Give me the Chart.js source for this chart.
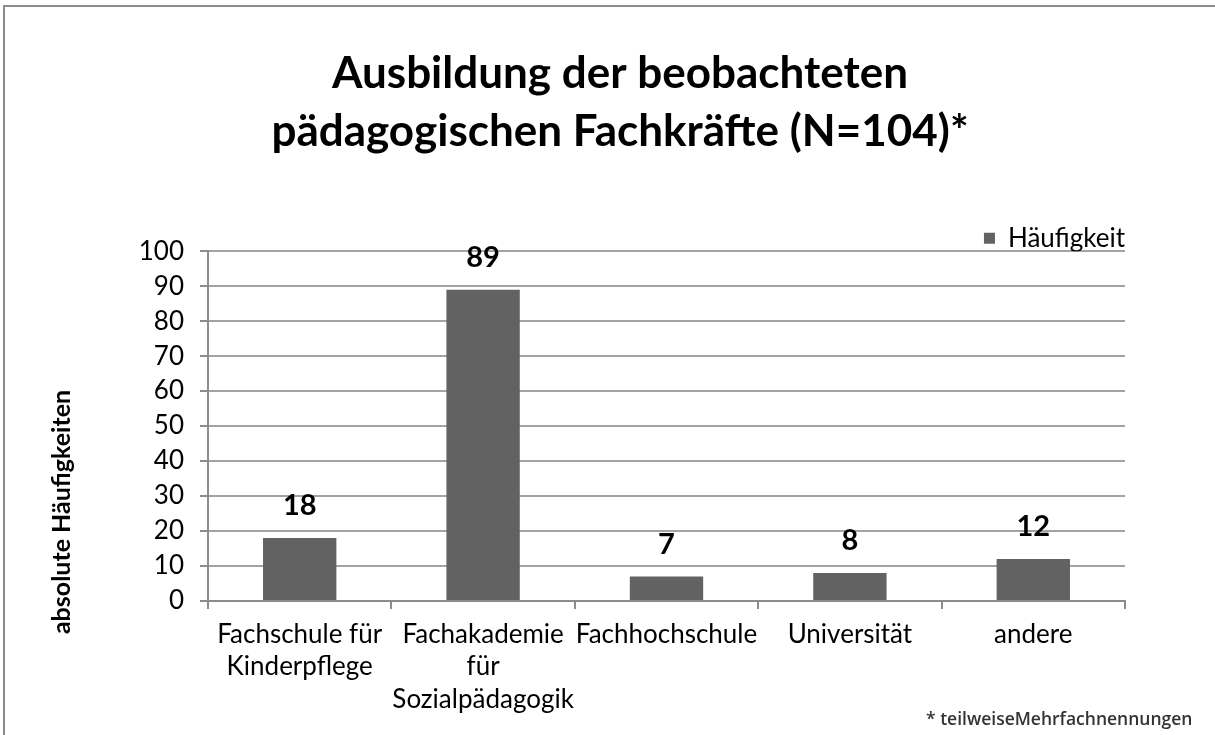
<!DOCTYPE html>
<html>
<head>
<meta charset="utf-8">
<script src="https://cdn.jsdelivr.net/npm/chart.js@4.4.1/dist/chart.umd.min.js"></script>
<style>
    html, body { margin: 0; padding: 0; background: #fff; }
    #wrap { position: relative; width: 1215px; height: 735px; overflow: hidden; }
    #frame {
        position: absolute; left: 3px; top: 5px; width: 1212px; height: 730px;
        border-top: 2px solid #8c8c8c; border-left: 2px solid #8c8c8c; box-sizing: border-box;
    }
    #chart { position: absolute; left: 0; top: 0; }
    #note {
        position: absolute; left: 926px; top: 706px;
        font: 600 17.5px 'Open Sans', sans-serif; color: #333; white-space: nowrap;
    }
</style>
</head>
<body>
<div id="wrap">
    <div id="frame"></div>
    <canvas id="chart" width="1215" height="735"></canvas>
    <div id="note">* teilweiseMehrfachnennungen</div>
</div>
<script>
// Daten
const categories = [
    ['Fachschule für', 'Kinderpflege'],
    ['Fachakademie', 'für', 'Sozialpädagogik'],
    'Fachhochschule',
    'Universität',
    'andere'
];
const counts = [18, 89, 7, 8, 12];
const seriesName = 'Häufigkeit';
const titleLines = ['Ausbildung der beobachteten', 'pädagogischen Fachkräfte (N=104)*'];
const yAxisTitle = 'absolute Häufigkeiten';
const yMin = 0, yMax = 100, yStep = 10;

const barColor = '#626262';
const axisColor = '#8c8c8c';
const gridColor = '#a3a3a3';

// Werte über den Balken
const valueLabels = {
    id: 'valueLabels',
    afterDatasetsDraw(chart) {
        const ctx = chart.ctx;
        const meta = chart.getDatasetMeta(0);
        ctx.save();
        ctx.font = 'bold 29px Lato';
        ctx.fillStyle = '#000';
        ctx.textAlign = 'center';
        ctx.textBaseline = 'middle';
        meta.data.forEach((bar, i) => {
            ctx.fillText(counts[i], bar.x, bar.y - 32);
        });
        ctx.restore();
    }
};

// Achsentitel links (gedreht)
const yTitle = {
    id: 'yTitle',
    afterDraw(chart) {
        const ctx = chart.ctx;
        ctx.save();
        ctx.translate(62, 512);
        ctx.rotate(-Math.PI / 2);
        ctx.font = 'bold 25px Lato';
        ctx.fillStyle = '#000';
        ctx.textAlign = 'center';
        ctx.textBaseline = 'middle';
        ctx.fillText(yAxisTitle, 0, 0);
        ctx.restore();
    }
};

new Chart(document.getElementById('chart'), {
    type: 'bar',
    data: {
        labels: categories,
        datasets: [{
            label: seriesName,
            data: counts,
            backgroundColor: barColor,
            borderWidth: 0,
            barPercentage: 0.4,
            categoryPercentage: 1
        }]
    },
    options: {
        responsive: false,
        animation: false,
        layout: { padding: { left: 115, right: 90, top: 0, bottom: 0 } },
        plugins: {
            title: {
                display: true,
                text: titleLines,
                color: '#000',
                font: { family: 'Lato', size: 44, weight: 'bold', lineHeight: 1.32 },
                padding: { top: 45, bottom: 64 }
            },
            legend: {
                position: 'top',
                align: 'end',
                maxHeight: 26,
                labels: {
                    color: '#000',
                    font: { family: 'Lato', size: 26 },
                    boxWidth: 11,
                    boxHeight: 11,
                    padding: 0
                }
            },
            tooltip: { enabled: false }
        },
        scales: {
            x: {
                grid: {
                    offset: true,
                    drawOnChartArea: false,
                    tickLength: 8,
                    color: axisColor,
                    lineWidth: 2
                },
                border: { color: axisColor, width: 2 },
                ticks: {
                    color: '#000',
                    font: { family: 'Lato', size: 26, lineHeight: 1.25 },
                    padding: 9,
                    maxRotation: 0,
                    autoSkip: false
                },
                afterFit(scale) { scale.height = 134; }
            },
            y: {
                min: yMin,
                max: yMax,
                ticks: {
                    stepSize: yStep,
                    color: '#000',
                    font: { family: 'Lato', size: 26 },
                    padding: 16
                },
                grid: { color: gridColor, lineWidth: 2, tickLength: 8, tickColor: axisColor },
                border: { color: axisColor, width: 2 },
                afterFit(scale) { scale.width = 93; }
            }
        }
    },
    plugins: [valueLabels, yTitle]
});
</script>
</body>
</html>
